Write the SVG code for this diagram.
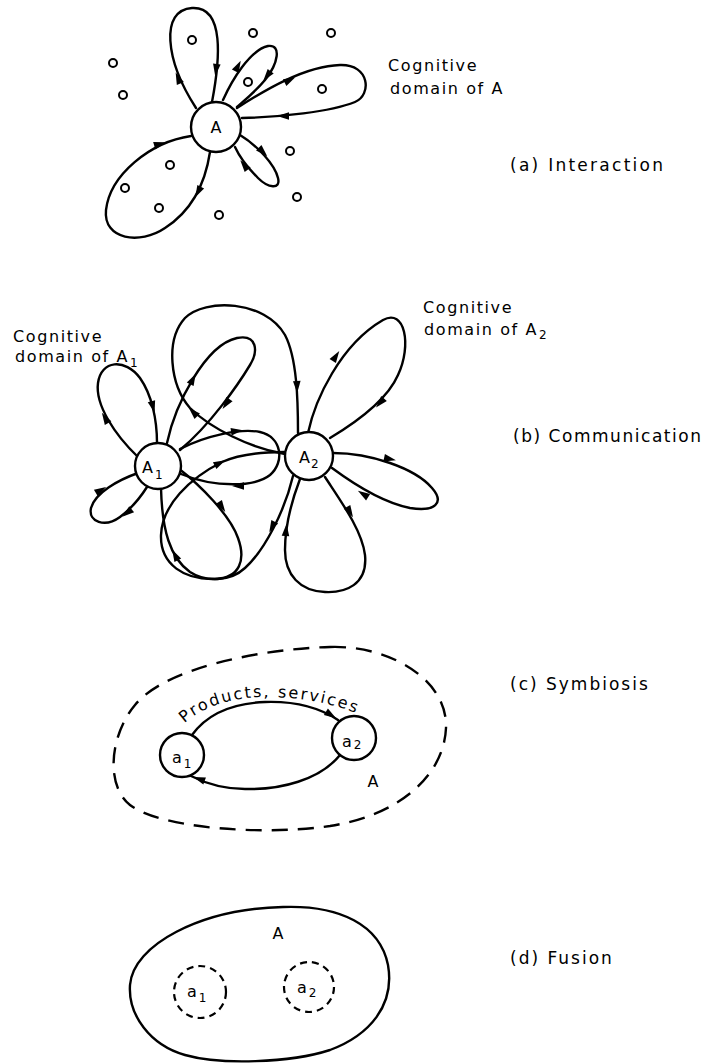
<svg xmlns="http://www.w3.org/2000/svg" xmlns:xlink="http://www.w3.org/1999/xlink" width="708" height="1064" viewBox="0 0 708 1064">
<style>
.ln{fill:none;stroke:#000;stroke-width:2.4;stroke-linecap:round;stroke-linejoin:round}
.nd{fill:#fff;stroke:#000;stroke-width:2.4}
.dot{fill:#fff;stroke:#000;stroke-width:2}
.dash{fill:none;stroke:#000;stroke-width:2.4;stroke-dasharray:16 10}
.dc{fill:none;stroke:#000;stroke-width:2.2;stroke-dasharray:7 5}
.t{font-family:"DejaVu Sans","Liberation Sans",sans-serif;fill:#000}
.cap{font-size:17px;letter-spacing:2px}
.lbl{font-size:16px;letter-spacing:1.6px}
.nl{font-size:16px}
</style>
<defs>
<path id="ah" d="M6,0 L-6,-3.8 L-6,3.8 Z" fill="#000"/>
</defs>
<rect width="708" height="1064" fill="#fff"/>

<g id="connectors">
<!-- (a) -->
<path class="ln" d="M196,108 C165,60 160,10 192,8 C225,6 220,60 212,102"/>
<path class="ln" d="M223,100 C232,80 250,50 268,46 C282,44 278,64 265,80 C255,92 245,100 237,107"/>
<path class="ln" d="M237,108 C265,90 305,66 340,65 C370,64 372,95 355,102 C330,112 280,117 242,118"/>
<path class="ln" d="M240,135 C258,146 275,165 278,178 C281,190 268,188 258,178 C248,168 240,158 235,147"/>
<path class="ln" d="M191,136 C150,142 110,175 106,210 C103,240 140,245 165,228 C190,212 205,185 210,152"/>
<use href="#ah" transform="translate(178,78) rotate(-113)"/>
<use href="#ah" transform="translate(216,70) rotate(98)"/>
<use href="#ah" transform="translate(238,66) rotate(-63)"/>
<use href="#ah" transform="translate(267,76) rotate(128)"/>
<use href="#ah" transform="translate(290,80) rotate(-27)"/>
<use href="#ah" transform="translate(283,116) rotate(180)"/>
<use href="#ah" transform="translate(263,152) rotate(45)"/>
<use href="#ah" transform="translate(244,165) rotate(-128)"/>
<use href="#ah" transform="translate(160,144) rotate(-17)"/>
<use href="#ah" transform="translate(198,192) rotate(117)"/>
<!-- (b) -->
<path class="ln" d="M138,457 C115,435 95,405 98,383 C101,360 125,358 140,378 C152,395 157,420 157,443"/>
<path class="ln" d="M138,473 C118,480 95,493 91,508 C88,522 105,528 120,517 C132,508 140,498 147,487"/>
<path class="ln" d="M167,443 C175,405 205,345 237,338 C258,334 258,352 250,365 C238,385 210,425 180,450"/>
<path class="ln" d="M285,454 C250,448 210,428 190,408 C170,385 165,340 185,318 C205,298 265,300 285,335 C297,358 298,400 298,433"/>
<path class="ln" d="M180,449 C205,436 240,428 260,432 C282,437 285,462 270,475 C255,487 215,488 181,474"/>
<path class="ln" d="M178,468 C200,485 230,515 238,538 C246,560 240,578 215,579 C185,580 160,565 161,535 C162,505 190,478 222,462 C240,454 265,452 284,452"/>
<path class="ln" d="M293,476 C285,510 265,550 245,568 C230,582 205,582 190,572 C170,558 162,530 161,488"/>
<path class="ln" d="M308,433 C315,400 340,345 383,320 C405,308 412,345 398,375 C388,398 360,420 330,438"/>
<path class="ln" d="M333,453 C370,453 415,468 432,488 C445,503 435,512 410,508 C385,503 355,485 332,468"/>
<path class="ln" d="M325,477 C340,500 362,530 365,555 C368,585 345,593 325,592 C300,591 285,575 285,550 C285,525 292,500 300,479"/>
<use href="#ah" transform="translate(105,418) rotate(-121)"/>
<use href="#ah" transform="translate(153,407) rotate(75)"/>
<use href="#ah" transform="translate(101,490) rotate(-31)"/>
<use href="#ah" transform="translate(127,513) rotate(141)"/>
<use href="#ah" transform="translate(193,379) rotate(-62)"/>
<use href="#ah" transform="translate(226,404) rotate(125)"/>
<use href="#ah" transform="translate(193,412) rotate(-135)"/>
<use href="#ah" transform="translate(297,387) rotate(88)"/>
<use href="#ah" transform="translate(237,431) rotate(-8)"/>
<use href="#ah" transform="translate(238,486) rotate(180)"/>
<use href="#ah" transform="translate(222,507) rotate(57)"/>
<use href="#ah" transform="translate(220,463) rotate(-27)"/>
<use href="#ah" transform="translate(272,527) rotate(117)"/>
<use href="#ah" transform="translate(175,555) rotate(-118)"/>
<use href="#ah" transform="translate(336,356) rotate(-57)"/>
<use href="#ah" transform="translate(380,403) rotate(132)"/>
<use href="#ah" transform="translate(390,459) rotate(12)"/>
<use href="#ah" transform="translate(363,494) rotate(-148)"/>
<use href="#ah" transform="translate(350,512) rotate(60)"/>
<use href="#ah" transform="translate(286,530) rotate(-85)"/>
<!-- (c) -->
<path class="ln" d="M192,735 C210,710 240,703 265,702 C295,701 320,708 338,720"/>
<path class="ln" d="M340,755 C320,780 280,790 245,789 C225,789 205,783 191,776"/>
<use href="#ah" transform="translate(331,715) rotate(32)"/>
<use href="#ah" transform="translate(199,779) rotate(-160)"/>
</g>

<g id="dots-a">
<circle class="dot" cx="192" cy="40" r="4"/>
<circle class="dot" cx="253" cy="33" r="4"/>
<circle class="dot" cx="331" cy="33" r="4"/>
<circle class="dot" cx="113" cy="63" r="4"/>
<circle class="dot" cx="123" cy="95" r="4"/>
<circle class="dot" cx="248" cy="82" r="4"/>
<circle class="dot" cx="322" cy="89" r="4"/>
<circle class="dot" cx="290" cy="151" r="4"/>
<circle class="dot" cx="297" cy="197" r="4"/>
<circle class="dot" cx="170" cy="165" r="4"/>
<circle class="dot" cx="125" cy="188" r="4"/>
<circle class="dot" cx="159" cy="208" r="4"/>
<circle class="dot" cx="219" cy="215" r="4"/>
</g>

<g id="node-A">
<circle class="nd" cx="216" cy="127" r="25"/>
<text class="t nl" x="216" y="133" text-anchor="middle">A</text>
</g>

<g id="node-A1">
<circle class="nd" cx="158" cy="466" r="23"/>
<text class="t nl" x="142" y="473">A<tspan dx="2" dy="6" font-size="12">1</tspan></text>
</g>

<g id="node-A2">
<circle class="nd" cx="309" cy="456" r="24"/>
<text class="t nl" x="299" y="463">A<tspan dx="1" dy="5" font-size="12">2</tspan></text>
</g>

<g id="node-a1-c">
<circle class="nd" cx="182" cy="755" r="22"/>
<text class="t nl" x="172" y="763">a<tspan dx="2" dy="5" font-size="12">1</tspan></text>
</g>

<g id="node-a2-c">
<circle class="nd" cx="354" cy="738" r="22"/>
<text class="t nl" x="342" y="747">a<tspan dx="2" dy="2" font-size="12">2</tspan></text>
</g>

<g id="boundary-c">
<path class="dash" d="M330,647 C390,645 448,680 446,728 C444,775 400,815 330,826 C260,836 160,828 130,805 C105,785 110,735 135,705 C165,668 260,649 330,647 Z"/>
<text class="t nl" x="373" y="787" text-anchor="middle">A</text>
</g>

<g id="label-products">
<path id="tp" d="M181,727 C200,706 235,697 265,697 C300,697 335,703 365,717" fill="none"/>
<text class="t" font-size="16" letter-spacing="2"><textPath href="#tp" xlink:href="#tp" startOffset="5">Products, services</textPath></text>
</g>

<g id="node-A-d">
<path class="ln" d="M283,907 C340,905 380,925 388,965 C395,1005 370,1035 330,1050 C290,1063 220,1065 185,1055 C150,1045 128,1015 130,985 C133,945 200,909 283,907 Z"/>
<text class="t nl" x="278" y="939" text-anchor="middle">A</text>
</g>

<g id="node-a1-d">
<circle class="dc" cx="200" cy="992" r="26"/>
<text class="t nl" x="187" y="997">a<tspan dx="2" dy="5" font-size="12">1</tspan></text>
</g>

<g id="node-a2-d">
<circle class="dc" cx="309" cy="987" r="25"/>
<text class="t nl" x="297" y="993">a<tspan dx="2" dy="4" font-size="12">2</tspan></text>
</g>

<g id="labels">
<text class="t lbl" x="388" y="71">Cognitive</text>
<text class="t lbl" x="390" y="94">domain of A</text>
<text class="t lbl" x="423" y="313">Cognitive</text>
<text class="t lbl" x="424" y="335">domain of A<tspan dx="1" dy="4" font-size="12">2</tspan></text>
<text class="t lbl" x="13" y="342">Cognitive</text>
<text class="t lbl" x="15" y="362">domain of A<tspan dx="1" dy="5" font-size="12">1</tspan></text>
<text class="t cap" x="510" y="171" textLength="155" lengthAdjust="spacing">(a) Interaction</text>
<text class="t cap" x="513" y="442" textLength="190" lengthAdjust="spacing">(b) Communication</text>
<text class="t cap" x="510" y="690">(c) Symbiosis</text>
<text class="t cap" x="510" y="964">(d) Fusion</text>
</g>
</svg>
